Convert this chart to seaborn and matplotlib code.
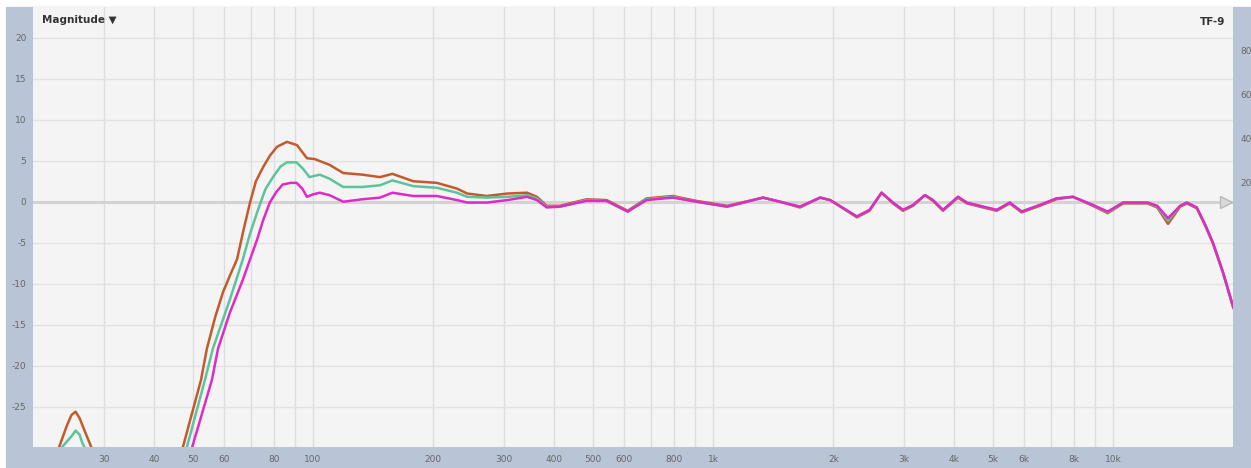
import pandas as pd
import numpy as np
import seaborn as sns
import matplotlib.pyplot as plt
from matplotlib.patches import Rectangle
from matplotlib.transforms import blended_transform_factory


# shared high frequency part (Hz) where the three traces overlap
hf_freq = [384, 414, 483, 542, 612, 682, 793, 910, 1085, 1334, 1470, 1650, 1853, 1963,
           2290, 2463, 2639, 2818, 2985, 3162, 3388, 3548, 3758, 4097, 4310, 4645, 5120,
           5520, 5910, 6560, 7220, 7940, 8910, 9700, 10600, 12200, 12900, 13730, 14720,
           15300, 16200, 17000, 17780, 18840, 20000]

# trace 1 (orange)
freq_a = [20, 22.5, 23.2, 24.2, 24.9, 25.5, 26.1, 26.9, 27.9, 29, 44,
          47.3, 52.5, 54.3, 57, 59.6, 62, 64.6, 67, 69.6, 72, 75, 78, 81.3, 86.1, 91.2,
          96.6, 101, 110, 119, 133, 147, 158, 178, 204, 229, 243, 272, 306, 343, 363] + hf_freq
db_a = [-40, -34, -29.9, -27.4, -26.0, -25.6, -26.4, -28.0, -29.9, -34, -40,
        -29.9, -21.7, -17.9, -14.0, -11.0, -9.0, -7.0, -3.5, -0.1, 2.5, 4.2, 5.6, 6.7, 7.3, 6.9,
        5.3, 5.2, 4.5, 3.5, 3.3, 3.0, 3.4, 2.5, 2.3, 1.6, 1.0, 0.7, 1.0, 1.1, 0.6,
        -0.5, -0.5, 0.3, 0.2, -1.1, 0.4, 0.7, 0.1, -0.5, 0.5, 0.0, -0.7, 0.5, 0.2,
        -1.9, -1.1, 1.1, -0.2, -1.1, -0.5, 0.8, 0.1, -1.1, 0.5, -0.2, -0.6, -1.1,
        -0.2, -1.3, -0.5, 0.3, 0.6, -0.5, -1.4, -0.2, -0.2, -0.7, -2.7, -0.6,
        -0.2, -0.8, -2.9, -5.1, -8.7, -13.0]

# trace 2 (green)
freq_b = [20, 23, 23.6, 24.9, 25.5, 26.1, 26.5, 27.0, 28, 44,
          48.4, 53.7, 56.2, 62.0, 66.8, 69.5, 72.5, 76, 79.4, 83, 86, 91, 94.5, 98,
          104, 110, 119, 133, 147, 158, 178, 204, 229, 243, 272, 306, 343, 363] + hf_freq
db_b = [-40, -33, -29.9, -28.6, -27.9, -28.4, -29.4, -30.2, -34, -40,
        -29.9, -21.7, -17.9, -11.9, -7.0, -4.0, -1.3, 1.5, 3.0, 4.3, 4.8, 4.8, 4.0, 3.0,
        3.3, 2.8, 1.8, 1.8, 2.0, 2.6, 1.9, 1.7, 1.1, 0.6, 0.5, 0.6, 0.8, 0.4,
        -0.6, -0.6, 0.2, 0.1, -1.2, 0.3, 0.6, 0.0, -0.6, 0.5, 0.0, -0.6, 0.5, 0.2,
        -1.8, -1.0, 1.1, -0.1, -1.0, -0.4, 0.8, 0.2, -1.0, 0.6, -0.1, -0.5, -1.0,
        -0.1, -1.2, -0.4, 0.4, 0.6, -0.4, -1.3, -0.1, -0.1, -0.6, -2.3, -0.5,
        -0.1, -0.7, -2.8, -5.0, -8.6, -12.9]

# trace 3 (magenta)
freq_c = [20, 45, 47.5,
          49.9, 55.9, 57.9, 62, 66.8, 72.5, 75, 78, 81, 84, 88, 91, 94, 96.6,
          100, 104, 110, 119, 133, 147, 158, 178, 204, 229, 243, 272, 306, 343, 363] + hf_freq
db_c = [-40, -40, -40,
        -29.9, -21.7, -17.9, -13.5, -9.5, -4.6, -2.3, -0.1, 1.2, 2.1, 2.3, 2.3, 1.6, 0.6,
        0.9, 1.1, 0.8, 0.0, 0.3, 0.5, 1.1, 0.7, 0.7, 0.2, -0.1, -0.1, 0.2, 0.6, 0.2,
        -0.7, -0.6, 0.1, 0.1, -1.2, 0.2, 0.5, 0.0, -0.6, 0.5, 0.0, -0.6, 0.5, 0.2,
        -1.8, -1.0, 1.1, -0.1, -1.0, -0.4, 0.8, 0.2, -1.0, 0.6, -0.1, -0.5, -1.0,
        -0.1, -1.2, -0.4, 0.4, 0.6, -0.4, -1.2, -0.1, -0.1, -0.5, -2.0, -0.5,
        -0.1, -0.7, -2.8, -5.0, -8.6, -12.9]

series_names = ['A', 'B', 'C']
series_colors = ['#c45a2c', '#5cc39b', '#e02ac6']

xtick_vals = [30, 40, 50, 60, 80, 100, 200, 300, 400, 500, 600, 800,
              1000, 2000, 3000, 4000, 5000, 6000, 8000, 10000]
xtick_labels = ['30', '40', '50', '60', '80', '100', '200', '300', '400', '500', '600', '800',
                '1k', '2k', '3k', '4k', '5k', '6k', '8k', '10k']
xgrid_extra = [70, 90, 700, 900, 7000, 9000]
ytick_vals = [20, 15, 10, 5, 0, -5, -10, -15, -20, -25]
right_ticks = [20, 40, 60, 80]

df = pd.concat([
    pd.DataFrame({'freq': freq_a, 'db': db_a, 'trace': 'A'}),
    pd.DataFrame({'freq': freq_b, 'db': db_b, 'trace': 'B'}),
    pd.DataFrame({'freq': freq_c, 'db': db_c, 'trace': 'C'}),
], ignore_index=True)

sns.set_style('white')
plt.rcParams['font.family'] = ['DejaVu Sans']

W, H = 1251, 468
fig = plt.figure(figsize=(W / 100, H / 100), dpi=100)
fig.patches.append(Rectangle((6 / W, 0), 1 - 6 / W, (H - 6.7) / H,
                             transform=fig.transFigure, color='#b9c5d7', zorder=-10))

left, right, top, bottom = 33.4, 1233.4, 6.5, 447
ax = fig.add_axes([left / W, (H - bottom) / H, (right - left) / W, (bottom - top) / H])
ax.set_facecolor('#f4f4f4')

sns.lineplot(data=df, x='freq', y='db', hue='trace', hue_order=series_names,
             palette=series_colors, estimator=None, linewidth=1.8, legend=False, ax=ax)

ax.set_xscale('log')
ax.set_xlim(20, 20000)
ax.set_ylim(-29.9, 23.8)
ax.set_xticks(xtick_vals)
ax.set_xticklabels(xtick_labels)
ax.set_xticks(xgrid_extra, minor=True)
ax.set_xticklabels([], minor=True)
ax.set_yticks(ytick_vals)
ax.set_yticklabels([str(v) for v in ytick_vals])
ax.tick_params(axis='both', which='both', length=0, labelsize=6.5, colors='#666666')
ax.tick_params(axis='x', pad=6)
ax.tick_params(axis='y', pad=5)
ax.grid(True, which='both', axis='x', color='#dcdde2', linewidth=1.0)
ax.grid(True, which='major', axis='y', color='#e2e2e2', linewidth=1.0)
ax.axhline(0, color='#d3d3d3', linewidth=2.2, zorder=1)
ax.set_axisbelow(True)
for s in ax.spines.values():
    s.set_visible(False)
ax.set_xlabel('')
ax.set_ylabel('')

ax.text(0.0072, 0.969, 'Magnitude \u25bc', transform=ax.transAxes, ha='left', va='center',
        fontsize=7.5, fontweight='bold', color='#333333')
ax.text(0.993, 0.965, 'TF-9', transform=ax.transAxes, ha='right', va='center',
        fontsize=7.5, fontweight='bold', color='#333333')

trans = blended_transform_factory(ax.transAxes, ax.transData)
ax.plot([0.9935], [0], marker='>', ms=9, mfc='#dadada', mec='#b8b8b8', mew=1.0,
        transform=trans, clip_on=False, zorder=5)

ax2 = ax.twinx()
ax2.set_ylim(-100, 100)
ax2.set_yticks(right_ticks)
ax2.set_yticklabels([str(v) for v in right_ticks])
ax2.tick_params(axis='y', length=0, labelsize=6.5, colors='#666666', pad=5)
for s in ax2.spines.values():
    s.set_visible(False)
ax2.grid(False)

fig.savefig('out.png', dpi=100)
